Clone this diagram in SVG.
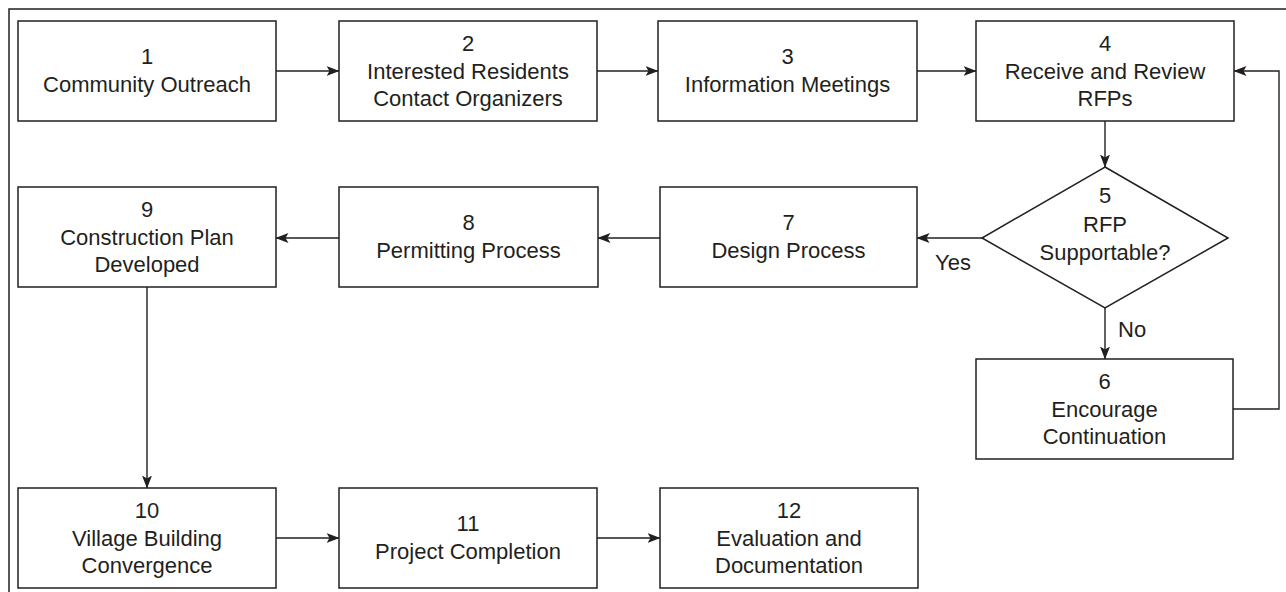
<svg xmlns="http://www.w3.org/2000/svg" width="1286" height="592" viewBox="0 0 1286 592">
<style>
.box{fill:#fff;stroke:#231f20;stroke-width:1.5}
.t{font-family:"Liberation Sans",Arial,sans-serif;font-size:22px;fill:#231f20;text-anchor:middle}
.l{font-family:"Liberation Sans",Arial,sans-serif;font-size:22px;fill:#231f20}
.c{fill:none;stroke:#231f20;stroke-width:1.4}
</style>
<defs>
<marker id="ah" markerWidth="13" markerHeight="11" refX="12.5" refY="5" orient="auto" markerUnits="userSpaceOnUse">
<path d="M0,0 L13,5 L0,10 L3,5 Z" fill="#231f20"/>
</marker>
</defs>
<rect width="1286" height="592" fill="#fff"/>
<path d="M9,592 V9 H1286" fill="none" stroke="#231f20" stroke-width="1.5"/>
<g id="connectors">
<path class="c" d="M276,71 H339" marker-end="url(#ah)"/>
<path class="c" d="M597,71 H658" marker-end="url(#ah)"/>
<path class="c" d="M917,71 H976" marker-end="url(#ah)"/>
<path class="c" d="M1105,121 V167" marker-end="url(#ah)"/>
<path class="c" d="M982,238 H917" marker-end="url(#ah)"/>
<path class="c" d="M1105,308 V359" marker-end="url(#ah)"/>
<path class="c" d="M1233,409 H1279 V71 H1234" marker-end="url(#ah)"/>
<path class="c" d="M660,238 H598" marker-end="url(#ah)"/>
<path class="c" d="M339,238 H276" marker-end="url(#ah)"/>
<path class="c" d="M147,287 V488" marker-end="url(#ah)"/>
<path class="c" d="M276,538 H339" marker-end="url(#ah)"/>
<path class="c" d="M597,538 H660" marker-end="url(#ah)"/>
<text class="l" x="935" y="270">Yes</text>
<text class="l" x="1118" y="337">No</text>
</g>
<g id="n1"><rect class="box" x="18" y="21" width="258" height="100"/>
<text class="t" x="147" y="64">1</text><text class="t" x="147" y="92">Community Outreach</text></g>
<g id="n2"><rect class="box" x="339" y="21" width="258" height="100"/>
<text class="t" x="468" y="51">2</text><text class="t" x="468" y="78.5">Interested Residents</text><text class="t" x="468" y="106">Contact Organizers</text></g>
<g id="n3"><rect class="box" x="658" y="21" width="259" height="100"/>
<text class="t" x="787.5" y="64">3</text><text class="t" x="787.5" y="92">Information Meetings</text></g>
<g id="n4"><rect class="box" x="976" y="21" width="258" height="100"/>
<text class="t" x="1105" y="51">4</text><text class="t" x="1105" y="78.5">Receive and Review</text><text class="t" x="1105" y="106">RFPs</text></g>
<g id="n5"><polygon class="box" points="1105,167 1228,238 1105,308 982,238"/>
<text class="t" x="1105" y="203">5</text><text class="t" x="1105" y="232">RFP</text><text class="t" x="1105" y="260">Supportable?</text></g>
<g id="n6"><rect class="box" x="976" y="359" width="257" height="100"/>
<text class="t" x="1104.5" y="389">6</text><text class="t" x="1104.5" y="416.5">Encourage</text><text class="t" x="1104.5" y="444">Continuation</text></g>
<g id="n7"><rect class="box" x="660" y="187" width="257" height="100"/>
<text class="t" x="788.5" y="230">7</text><text class="t" x="788.5" y="258">Design Process</text></g>
<g id="n8"><rect class="box" x="339" y="187" width="259" height="100"/>
<text class="t" x="468.5" y="230">8</text><text class="t" x="468.5" y="258">Permitting Process</text></g>
<g id="n9"><rect class="box" x="18" y="187" width="258" height="100"/>
<text class="t" x="147" y="217">9</text><text class="t" x="147" y="244.5">Construction Plan</text><text class="t" x="147" y="272">Developed</text></g>
<g id="n10"><rect class="box" x="18" y="488" width="258" height="100"/>
<text class="t" x="147" y="518">10</text><text class="t" x="147" y="545.5">Village Building</text><text class="t" x="147" y="573">Convergence</text></g>
<g id="n11"><rect class="box" x="339" y="488" width="258" height="100"/>
<text class="t" x="468" y="531">11</text><text class="t" x="468" y="559">Project Completion</text></g>
<g id="n12"><rect class="box" x="660" y="488" width="258" height="100"/>
<text class="t" x="789" y="518">12</text><text class="t" x="789" y="545.5">Evaluation and</text><text class="t" x="789" y="573">Documentation</text></g>
</svg>
